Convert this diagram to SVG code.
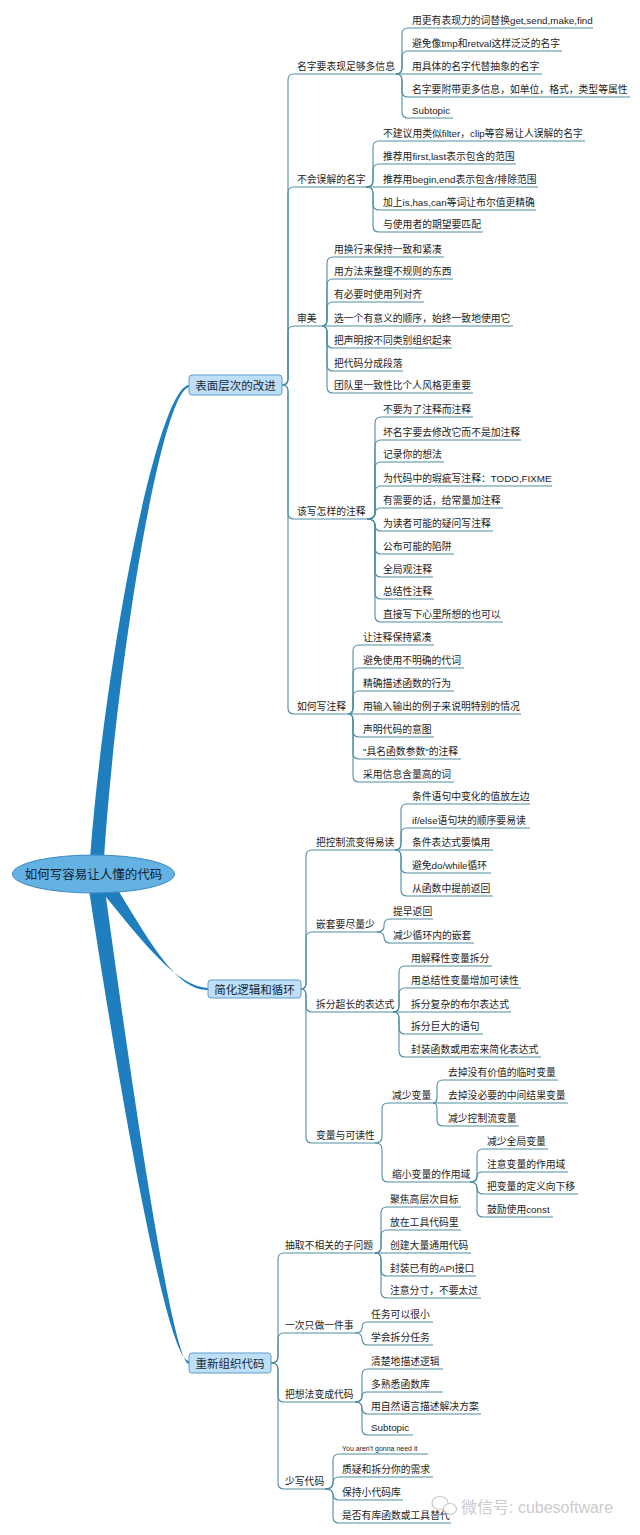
<svg xmlns="http://www.w3.org/2000/svg" width="640" height="1535" viewBox="0 0 640 1535">
<style>
text{font-family:"Liberation Sans","Noto Sans CJK SC",sans-serif;fill:#1d1d1d}
.t{font-size:9.8px}
.s{font-size:7px}
.l1{font-size:11.5px;text-anchor:middle;fill:#15283a}
.root{font-size:12.5px;text-anchor:middle;fill:#10202e}
.box{fill:#bfdff6;stroke:#5f9dcb;stroke-width:1}
.c path{fill:none;stroke:#4f8da2;stroke-width:1.1}
.br{fill:#1f7fbe}
.wm{font-size:16px;fill:#c4c4c4}
</style>
<rect width="640" height="1535" fill="#ffffff"/>

<g id="branches">
<path class="br" d="M90 858C106 650 158 388 189 385L189 387C162 392 118 650 104 858Z"/>
<path class="br" d="M102 892C145 945 178 987 208 988L208 990C178 991 152 946 118 890Z"/>
<path class="br" d="M89 890C118 1080 166 1361 189 1361L189 1364C172 1363 131 1080 105 890Z"/>
</g>

<g class="c" id="connectors">
<path d="M282 385Q288 385 288 379V80Q288 74 294 74H396"/>
<path d="M282 385Q288 385 288 379V193Q288 187 294 187H366"/>
<path d="M282 385Q288 385 288 379V332Q288 326 294 326H322"/>
<path d="M282 385Q288 385 288 391V513Q288 519 294 519H367"/>
<path d="M282 385Q288 385 288 391V708Q288 714 294 714H348"/>

<path d="M396 74Q402 74 402 68V34Q402 28 408 28H593"/>
<path d="M396 74Q402 74 402 68V57Q402 51 408 51H562"/>
<path d="M396 74H542"/>
<path d="M396 74Q402 74 402 80V91Q402 97 408 97H630"/>
<path d="M396 74Q402 74 402 80V112Q402 118 408 118H453"/>

<path d="M366 187Q373 187 373 181V147Q373 141 379 141H585"/>
<path d="M366 187Q373 187 373 181V170Q373 164 379 164H516"/>
<path d="M366 187H538"/>
<path d="M366 187Q373 187 373 193V204Q373 210 379 210H536"/>
<path d="M366 187Q373 187 373 193V226Q373 232 379 232H483"/>

<path d="M322 326Q327 326 327 320V263Q327 257 333 257H444"/>
<path d="M322 326Q327 326 327 320V285Q327 279 333 279H453"/>
<path d="M322 326Q327 326 327 320V308Q327 302 333 302H424"/>
<path d="M322 326H513"/>
<path d="M322 326Q327 326 327 332V342Q327 348 333 348H452"/>
<path d="M322 326Q327 326 327 332V365Q327 371 333 371H403"/>
<path d="M322 326Q327 326 327 332V387Q327 393 333 393H473"/>

<path d="M367 519Q375 519 375 513V423Q375 417 381 417H473"/>
<path d="M367 519Q375 519 375 513V446Q375 440 381 440H521"/>
<path d="M367 519Q375 519 375 513V468Q375 462 381 462H444"/>
<path d="M367 519Q375 519 375 513V492Q375 486 381 486H552"/>
<path d="M367 519Q375 519 375 514Q375 508 381 508H503"/>
<path d="M367 519Q375 519 375 525Q375 531 381 531H493"/>
<path d="M367 519Q375 519 375 525V548Q375 554 381 554H454"/>
<path d="M367 519Q375 519 375 525V571Q375 577 381 577H433"/>
<path d="M367 519Q375 519 375 525V593Q375 599 381 599H434"/>
<path d="M367 519Q375 519 375 525V616Q375 622 381 622H503"/>

<path d="M348 714Q353 714 353 708V651Q353 645 359 645H434"/>
<path d="M348 714Q353 714 353 708V674Q353 668 359 668H464"/>
<path d="M348 714Q353 714 353 708V697Q353 691 359 691H454"/>
<path d="M348 714H521"/>
<path d="M348 714Q353 714 353 720V731Q353 737 359 737H434"/>
<path d="M348 714Q353 714 353 720V753Q353 759 359 759H461"/>
<path d="M348 714Q353 714 353 720V776Q353 782 359 782H454"/>

<path d="M301 989Q306 989 306 983V856Q306 850 312 850H395"/>
<path d="M301 989Q306 989 306 983V938Q306 932 312 932H377"/>
<path d="M301 989Q306 989 306 995V1006Q306 1012 312 1012H393"/>
<path d="M301 989Q306 989 306 995V1137Q306 1143 312 1143H375"/>

<path d="M395 850Q401 850 401 844V810Q401 804 407 804H530"/>
<path d="M395 850Q401 850 401 844V834Q401 828 407 828H530"/>
<path d="M395 850H493"/>
<path d="M395 850Q401 850 401 856V867Q401 873 407 873H491"/>
<path d="M395 850Q401 850 401 856V890Q401 896 407 896H493"/>

<path d="M377 932Q384 932 384 926V925Q384 919 390 919H433"/>
<path d="M377 932Q384 932 384 937Q384 943 390 943H474"/>

<path d="M393 1012Q399 1012 399 1006V972Q399 966 405 966H492"/>
<path d="M393 1012Q399 1012 399 1006V994Q399 988 405 988H521"/>
<path d="M393 1012H511"/>
<path d="M393 1012Q399 1012 399 1018V1028Q399 1034 405 1034H483"/>
<path d="M393 1012Q399 1012 399 1018V1051Q399 1057 405 1057H541"/>

<path d="M375 1143Q382 1143 382 1137V1109Q382 1103 388 1103H433"/>
<path d="M375 1143Q382 1143 382 1149V1176Q382 1182 388 1182H470"/>

<path d="M433 1103Q437 1103 437 1097V1086Q437 1080 443 1080H558"/>
<path d="M433 1103H568"/>
<path d="M433 1103Q437 1103 437 1109V1120Q437 1126 443 1126H519"/>

<path d="M470 1182Q477 1182 477 1176V1155Q477 1149 483 1149H548"/>
<path d="M470 1182Q477 1182 477 1177Q477 1172 482 1172H568"/>
<path d="M470 1182Q477 1182 477 1188Q477 1194 483 1194H578"/>
<path d="M470 1182Q477 1182 477 1188V1211Q477 1217 483 1217H553"/>

<path d="M271 1363Q278 1363 278 1357V1259Q278 1253 284 1253H375"/>
<path d="M271 1363Q278 1363 278 1357V1339Q278 1333 284 1333H355"/>
<path d="M271 1363Q278 1363 278 1369V1396Q278 1402 284 1402H355"/>
<path d="M271 1363Q278 1363 278 1369V1483Q278 1489 284 1489H325"/>

<path d="M375 1253Q381 1253 381 1247V1213Q381 1207 387 1207H461"/>
<path d="M375 1253Q381 1253 381 1247V1236Q381 1230 387 1230H461"/>
<path d="M375 1253H471"/>
<path d="M375 1253Q381 1253 381 1259V1270Q381 1276 387 1276H476"/>
<path d="M375 1253Q381 1253 381 1259V1292Q381 1298 387 1298H481"/>

<path d="M355 1333Q362 1333 362 1328Q362 1322 367 1322H433"/>
<path d="M355 1333Q362 1333 362 1339Q362 1345 368 1345H433"/>

<path d="M355 1402Q362 1402 362 1396V1375Q362 1369 368 1369H443"/>
<path d="M355 1402Q362 1402 362 1397Q362 1392 367 1392H443"/>
<path d="M355 1402Q362 1402 362 1408Q362 1414 368 1414H481"/>
<path d="M355 1402Q362 1402 362 1408V1429Q362 1435 368 1435H413"/>

<path d="M325 1489Q333 1489 333 1483V1460Q333 1454 339 1454H428"/>
<path d="M325 1489Q333 1489 333 1483Q333 1477 339 1477H433"/>
<path d="M325 1489Q333 1489 333 1494Q333 1500 339 1500H403"/>
<path d="M325 1489Q333 1489 333 1495V1517Q333 1523 339 1523H451"/>
</g>

<g id="root"><ellipse cx="93.5" cy="874" rx="81" ry="19" fill="#64b2e4" stroke="#3c8ac0" stroke-width="1"/><text class="root" x="93.5" y="878.5">如何写容易让人懂的代码</text></g>

<g id="n-a"><rect class="box" x="189" y="375" width="93" height="20" rx="3"/><text class="l1" x="235.5" y="389.5">表面层次的改进</text></g>
<g id="n-b"><rect class="box" x="208" y="980" width="93" height="18" rx="3"/><text class="l1" x="254.5" y="993.5">简化逻辑和循环</text></g>
<g id="n-c"><rect class="box" x="189" y="1353" width="82" height="20" rx="3"/><text class="l1" x="230" y="1367.5">重新组织代码</text></g>

<g id="n-a1"><text class="t" x="297" y="70">名字要表现足够多信息</text></g>
<g id="n-a1-1"><text class="t" x="412" y="24">用更有表现力的词替换get,send,make,find</text></g>
<g id="n-a1-2"><text class="t" x="412" y="47">避免像tmp和retval这样泛泛的名字</text></g>
<g id="n-a1-3"><text class="t" x="412" y="70">用具体的名字代替抽象的名字</text></g>
<g id="n-a1-4"><text class="t" x="412" y="93">名字要附带更多信息，如单位，格式，类型等属性</text></g>
<g id="n-a1-5"><text class="t" x="412" y="114">Subtopic</text></g>

<g id="n-a2"><text class="t" x="297" y="183">不会误解的名字</text></g>
<g id="n-a2-1"><text class="t" x="383" y="137">不建议用类似filter，clip等容易让人误解的名字</text></g>
<g id="n-a2-2"><text class="t" x="383" y="160">推荐用first,last表示包含的范围</text></g>
<g id="n-a2-3"><text class="t" x="383" y="183">推荐用begin,end表示包含/排除范围</text></g>
<g id="n-a2-4"><text class="t" x="383" y="206">加上is,has,can等词让布尔值更精确</text></g>
<g id="n-a2-5"><text class="t" x="383" y="228">与使用者的期望要匹配</text></g>

<g id="n-a3"><text class="t" x="297" y="322">审美</text></g>
<g id="n-a3-1"><text class="t" x="334" y="253">用换行来保持一致和紧凑</text></g>
<g id="n-a3-2"><text class="t" x="334" y="275">用方法来整理不规则的东西</text></g>
<g id="n-a3-3"><text class="t" x="334" y="298">有必要时使用列对齐</text></g>
<g id="n-a3-4"><text class="t" x="334" y="322">选一个有意义的顺序，始终一致地使用它</text></g>
<g id="n-a3-5"><text class="t" x="334" y="344">把声明按不同类别组织起来</text></g>
<g id="n-a3-6"><text class="t" x="334" y="367">把代码分成段落</text></g>
<g id="n-a3-7"><text class="t" x="334" y="389">团队里一致性比个人风格更重要</text></g>

<g id="n-a4"><text class="t" x="297" y="515">该写怎样的注释</text></g>
<g id="n-a4-1"><text class="t" x="383" y="413">不要为了注释而注释</text></g>
<g id="n-a4-2"><text class="t" x="383" y="436">坏名字要去修改它而不是加注释</text></g>
<g id="n-a4-3"><text class="t" x="383" y="458">记录你的想法</text></g>
<g id="n-a4-4"><text class="t" x="383" y="482">为代码中的瑕疵写注释：TODO,FIXME</text></g>
<g id="n-a4-5"><text class="t" x="383" y="504">有需要的话，给常量加注释</text></g>
<g id="n-a4-6"><text class="t" x="383" y="527">为读者可能的疑问写注释</text></g>
<g id="n-a4-7"><text class="t" x="383" y="550">公布可能的陷阱</text></g>
<g id="n-a4-8"><text class="t" x="383" y="573">全局观注释</text></g>
<g id="n-a4-9"><text class="t" x="383" y="595">总结性注释</text></g>
<g id="n-a4-10"><text class="t" x="383" y="618">直接写下心里所想的也可以</text></g>

<g id="n-a5"><text class="t" x="297" y="710">如何写注释</text></g>
<g id="n-a5-1"><text class="t" x="363" y="641">让注释保持紧凑</text></g>
<g id="n-a5-2"><text class="t" x="363" y="664">避免使用不明确的代词</text></g>
<g id="n-a5-3"><text class="t" x="363" y="687">精确描述函数的行为</text></g>
<g id="n-a5-4"><text class="t" x="363" y="710">用输入输出的例子来说明特别的情况</text></g>
<g id="n-a5-5"><text class="t" x="363" y="733">声明代码的意图</text></g>
<g id="n-a5-6"><text class="t" x="363" y="755">"具名函数参数"的注释</text></g>
<g id="n-a5-7"><text class="t" x="363" y="778">采用信息含量高的词</text></g>

<g id="n-b1"><text class="t" x="316" y="846">把控制流变得易读</text></g>
<g id="n-b1-1"><text class="t" x="412" y="800">条件语句中变化的值放左边</text></g>
<g id="n-b1-2"><text class="t" x="412" y="824">if/else语句块的顺序要易读</text></g>
<g id="n-b1-3"><text class="t" x="412" y="846">条件表达式要慎用</text></g>
<g id="n-b1-4"><text class="t" x="412" y="869">避免do/while循环</text></g>
<g id="n-b1-5"><text class="t" x="412" y="892">从函数中提前返回</text></g>

<g id="n-b2"><text class="t" x="316" y="928">嵌套要尽量少</text></g>
<g id="n-b2-1"><text class="t" x="393" y="915">提早返回</text></g>
<g id="n-b2-2"><text class="t" x="393" y="939">减少循环内的嵌套</text></g>

<g id="n-b3"><text class="t" x="316" y="1008">拆分超长的表达式</text></g>
<g id="n-b3-1"><text class="t" x="411" y="962">用解释性变量拆分</text></g>
<g id="n-b3-2"><text class="t" x="411" y="984">用总结性变量增加可读性</text></g>
<g id="n-b3-3"><text class="t" x="411" y="1008">拆分复杂的布尔表达式</text></g>
<g id="n-b3-4"><text class="t" x="411" y="1030">拆分巨大的语句</text></g>
<g id="n-b3-5"><text class="t" x="411" y="1053">封装函数或用宏来简化表达式</text></g>

<g id="n-b4"><text class="t" x="316" y="1139">变量与可读性</text></g>
<g id="n-b4-1"><text class="t" x="392" y="1099">减少变量</text></g>
<g id="n-b4-1-1"><text class="t" x="448" y="1076">去掉没有价值的临时变量</text></g>
<g id="n-b4-1-2"><text class="t" x="448" y="1099">去掉没必要的中间结果变量</text></g>
<g id="n-b4-1-3"><text class="t" x="448" y="1122">减少控制流变量</text></g>
<g id="n-b4-2"><text class="t" x="392" y="1178">缩小变量的作用域</text></g>
<g id="n-b4-2-1"><text class="t" x="487" y="1145">减少全局变量</text></g>
<g id="n-b4-2-2"><text class="t" x="487" y="1168">注意变量的作用域</text></g>
<g id="n-b4-2-3"><text class="t" x="487" y="1190">把变量的定义向下移</text></g>
<g id="n-b4-2-4"><text class="t" x="487" y="1213">鼓励使用const</text></g>

<g id="n-c1"><text class="t" x="285" y="1249">抽取不相关的子问题</text></g>
<g id="n-c1-1"><text class="t" x="390" y="1203">聚焦高层次目标</text></g>
<g id="n-c1-2"><text class="t" x="390" y="1226">放在工具代码里</text></g>
<g id="n-c1-3"><text class="t" x="390" y="1249">创建大量通用代码</text></g>
<g id="n-c1-4"><text class="t" x="390" y="1272">封装已有的API接口</text></g>
<g id="n-c1-5"><text class="t" x="390" y="1294">注意分寸，不要太过</text></g>

<g id="n-c2"><text class="t" x="285" y="1329">一次只做一件事</text></g>
<g id="n-c2-1"><text class="t" x="371" y="1318">任务可以很小</text></g>
<g id="n-c2-2"><text class="t" x="371" y="1341">学会拆分任务</text></g>

<g id="n-c3"><text class="t" x="285" y="1398">把想法变成代码</text></g>
<g id="n-c3-1"><text class="t" x="371" y="1365">清楚地描述逻辑</text></g>
<g id="n-c3-2"><text class="t" x="371" y="1388">多熟悉函数库</text></g>
<g id="n-c3-3"><text class="t" x="371" y="1410">用自然语言描述解决方案</text></g>
<g id="n-c3-4"><text class="t" x="371" y="1431">Subtopic</text></g>

<g id="n-c4"><text class="t" x="285" y="1485">少写代码</text></g>
<g id="n-c4-1"><text class="s" x="342" y="1451">You aren't gonna need it</text></g>
<g id="n-c4-2"><text class="t" x="342" y="1473">质疑和拆分你的需求</text></g>
<g id="n-c4-3"><text class="t" x="342" y="1496">保持小代码库</text></g>
<g id="n-c4-4"><text class="t" x="342" y="1519">是否有库函数或工具替代</text></g>

<g id="watermark" opacity="0.85">
<ellipse cx="440" cy="1503" rx="8" ry="6.5" fill="none" stroke="#bdbdbd" stroke-width="1.2"/>
<ellipse cx="450" cy="1509" rx="6.5" ry="5.5" fill="#ffffff" stroke="#bdbdbd" stroke-width="1.2"/>
<text class="wm" x="461" y="1513">微信号: cubesoftware</text>
</g>
</svg>
